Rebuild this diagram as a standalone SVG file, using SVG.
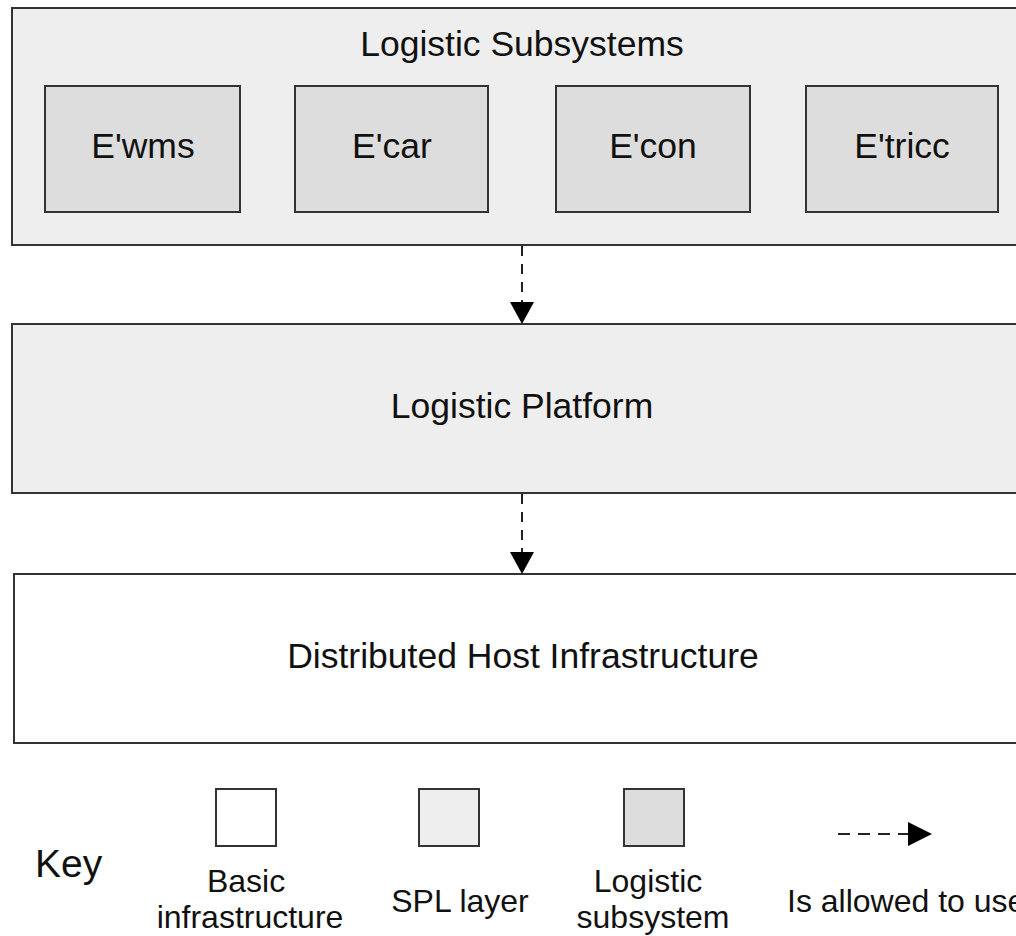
<svg xmlns="http://www.w3.org/2000/svg" width="1016" height="936" viewBox="0 0 1016 936">
<defs>
<style>
.box{stroke:#333;stroke-width:2}
.spl{fill:#eeeeee}
.sub{fill:#dddddd}
.basic{fill:#ffffff}
text{font-family:"Liberation Sans",Arial,sans-serif;fill:#111}
.t28{font-size:35.5px;text-anchor:middle}
.t26{font-size:32px;text-anchor:middle}
.dash{stroke:#222;stroke-width:2;stroke-dasharray:10,8;fill:none}
</style>
</defs>
<rect width="1016" height="936" fill="#fff"/>
<g id="subsystems">
<rect class="box spl" x="12" y="8" width="1010" height="237"/>
<text class="t28" x="522" y="56">Logistic Subsystems</text>
</g>
<g id="ewms"><rect class="box sub" x="45" y="86" width="195" height="126"/><text class="t28" x="143" y="158">E'wms</text></g>
<g id="ecar"><rect class="box sub" x="295" y="86" width="193" height="126"/><text class="t28" x="392" y="158">E'car</text></g>
<g id="econ"><rect class="box sub" x="556" y="86" width="194" height="126"/><text class="t28" x="653" y="158">E'con</text></g>
<g id="etricc"><rect class="box sub" x="806" y="86" width="192" height="126"/><text class="t28" x="902" y="158">E'tricc</text></g>
<g id="platform">
<rect class="box spl" x="12" y="324" width="1010" height="169"/>
<text class="t28" x="522" y="418">Logistic Platform</text>
</g>
<g id="infrastructure">
<rect class="box basic" x="14" y="574" width="1010" height="169"/>
<text class="t28" x="523" y="668">Distributed Host Infrastructure</text>
</g>
<g id="connectors">
<line class="dash" x1="522" y1="246" x2="522" y2="304"/>
<path d="M510,302 L534,302 L522,324 Z" fill="#000"/>
<line class="dash" x1="522" y1="494" x2="522" y2="553"/>
<path d="M510,552 L534,552 L522,574 Z" fill="#000"/>
</g>
<g id="legend">
<text x="35" y="877" style="font-size:39px">Key</text>
<rect class="box basic" x="216" y="789" width="60" height="57"/>
<text class="t26" x="246" y="892">Basic</text>
<text class="t26" x="250" y="928">infrastructure</text>
<rect class="box spl" x="419" y="789" width="60" height="57"/>
<text class="t26" x="460" y="912">SPL layer</text>
<rect class="box sub" x="624" y="789" width="60" height="57"/>
<text class="t26" x="648" y="892">Logistic</text>
<text class="t26" x="653" y="928">subsystem</text>
<line class="dash" x1="838" y1="834" x2="908" y2="834" style="stroke-dasharray:12,8"/>
<path d="M908,822 L932,834 L908,846 Z" fill="#000"/>
<text x="787" y="912" style="font-size:32px">Is allowed to use</text>
</g>
</svg>
